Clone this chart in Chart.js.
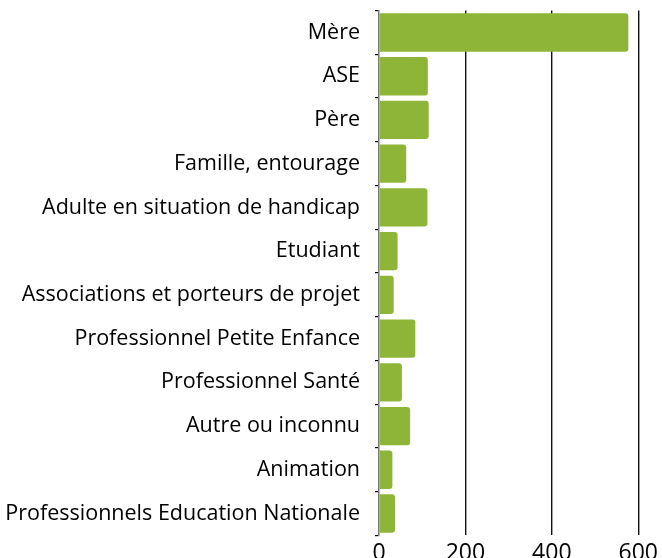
<!DOCTYPE html>
<html>
<head>
<meta charset="utf-8">
<script src="https://cdn.jsdelivr.net/npm/chart.js@4/dist/chart.umd.min.js"></script>
<style>
    html, body { margin: 0; padding: 0; background: #fff; overflow: hidden; }
    #wrap { position: relative; width: 662px; height: 571px; }
</style>
</head>
<body>
<div id="wrap"><canvas id="profilChart"></canvas></div>
<script>
const categories = [
    'Mère',
    'ASE',
    'Père',
    'Famille, entourage',
    'Adulte en situation de handicap',
    'Etudiant',
    'Associations et porteurs de projet',
    'Professionnel Petite Enfance',
    'Professionnel Santé',
    'Autre ou inconnu',
    'Animation',
    'Professionnels Education Nationale'
];
const values = [577, 113, 115, 63, 112, 43, 34, 84, 53, 72, 31, 37];
const xTicks = [0, 200, 400, 600];

document.addEventListener('DOMContentLoaded', function () {
    const ctx = document.getElementById('profilChart');
    new Chart(ctx, {
        type: 'bar',
        data: {
            labels: categories,
            datasets: [{
                data: values,
                backgroundColor: '#8eb538',
                borderWidth: 0,
                borderRadius: 3,
                barPercentage: 0.877,
                categoryPercentage: 1
            }]
        },
        options: {
            indexAxis: 'y',
            responsive: true,
            maintainAspectRatio: false,
            animation: false,
            layout: {
                padding: { top: 10.6, right: 23, left: 0, bottom: 0 }
            },
            plugins: {
                legend: { display: false },
                tooltip: { enabled: false }
            },
            scales: {
                x: {
                    min: xTicks[0],
                    max: xTicks[xTicks.length - 1],
                    afterBuildTicks: function (scale) {
                        scale.ticks = xTicks.map(v => ({ value: v }));
                    },
                    border: { display: false },
                    grid: {
                        color: function (c) { return c.index === 0 ? 'rgba(0,0,0,0)' : '#111'; },
                        lineWidth: 1.4,
                        drawTicks: false
                    },
                    ticks: {
                        color: '#000',
                        padding: 4,
                        font: { family: 'Open Sans', size: 23 }
                    }
                },
                y: {
                    // fixed label column, no extra space above/below the bars
                    afterFit: function (scale) {
                        scale.width = 379;
                        scale.paddingTop = 0;
                        scale.paddingBottom = 0;
                    },
                    border: { display: true, color: '#777', width: 1.5 },
                    grid: {
                        offset: true,
                        drawOnChartArea: false,
                        color: '#000',
                        tickLength: 4,
                        lineWidth: 1.2
                    },
                    ticks: {
                        color: '#000',
                        padding: 15,
                        font: { family: 'Open Sans', size: 21.5, lineHeight: 1 }
                    }
                }
            }
        }
    });
});
</script>
</body>
</html>
